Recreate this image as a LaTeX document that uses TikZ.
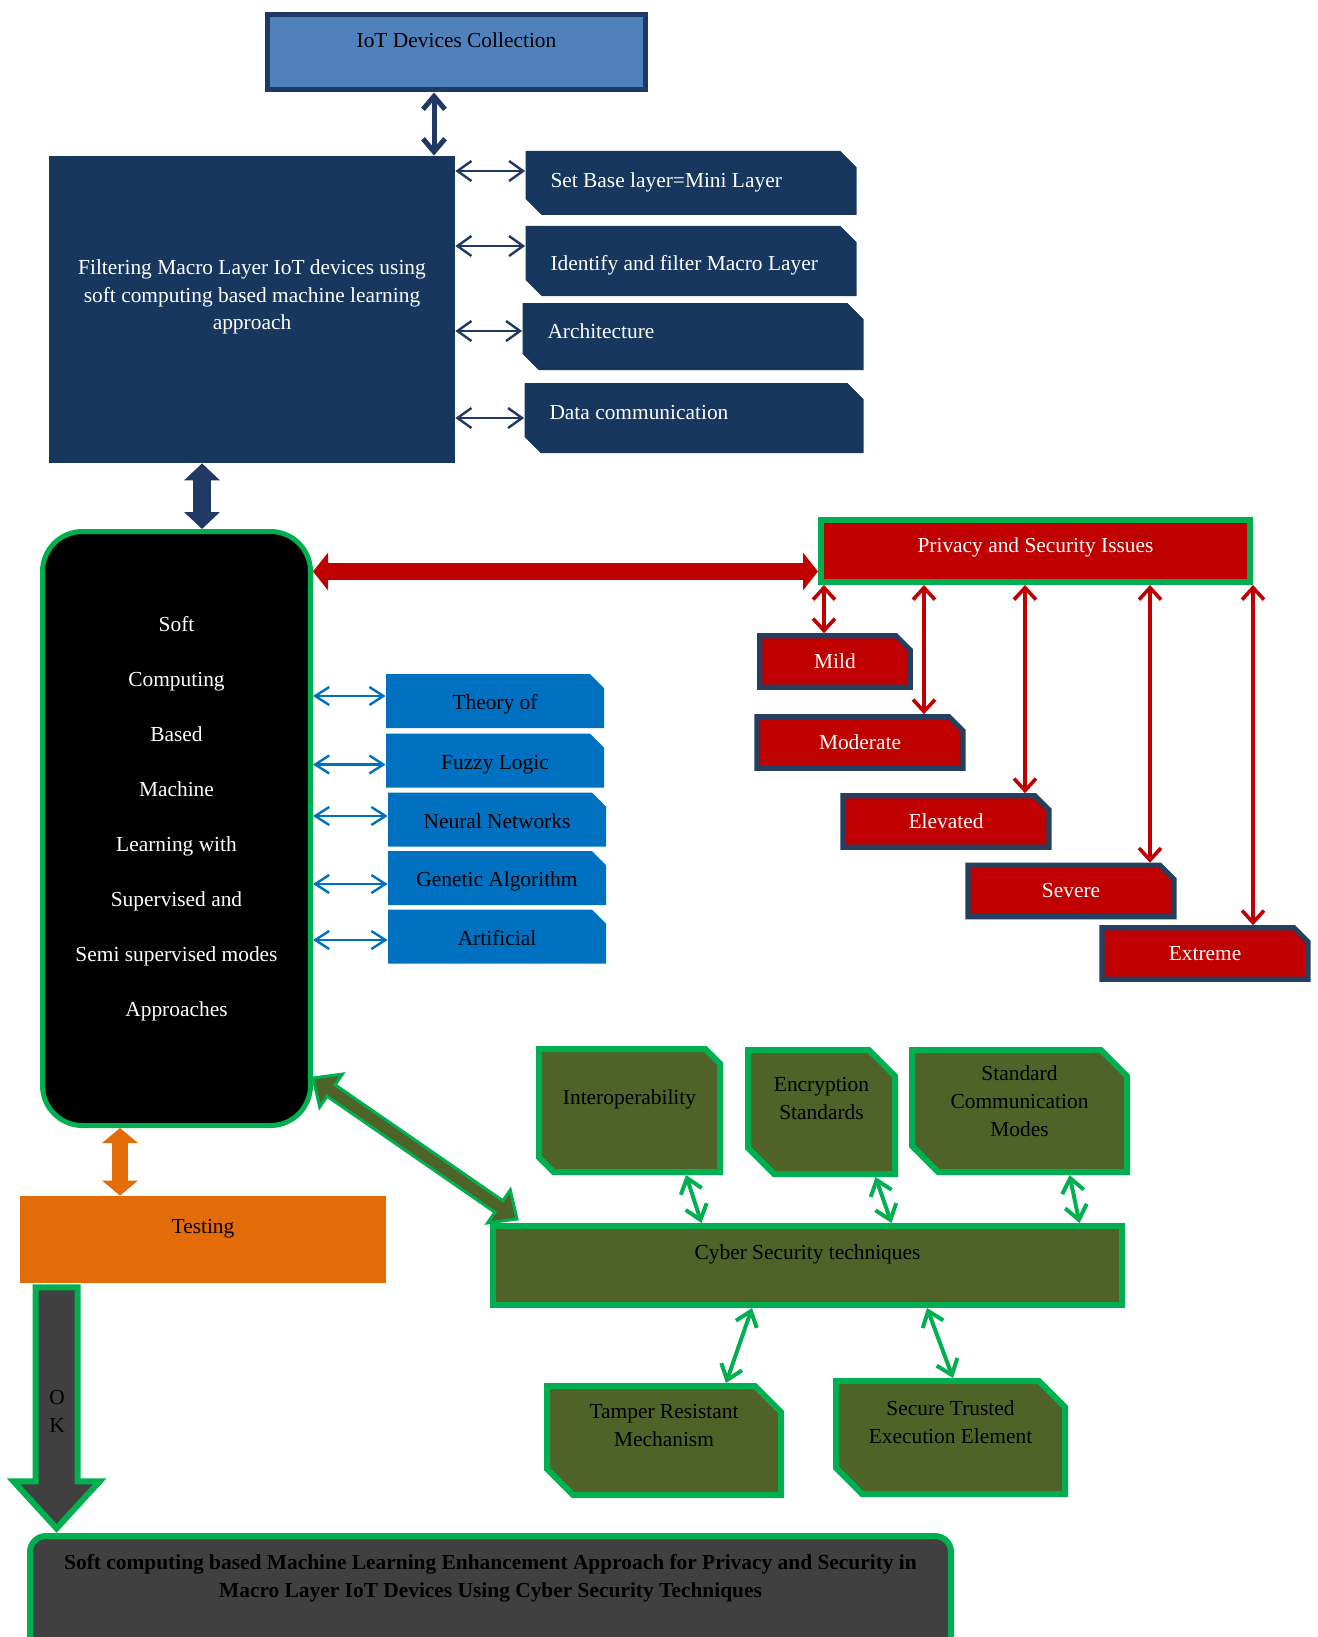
\documentclass[tikz,border=0pt]{standalone}
\usepackage{fontspec}
\setmainfont{Liberation Serif}
\usetikzlibrary{positioning, shapes.misc, arrows.meta, calc}

\definecolor{navy}{HTML}{17375E}
\definecolor{navyline}{HTML}{1F3864}
\definecolor{steel}{HTML}{4F81BD}
\definecolor{alarm}{HTML}{C00000}
\definecolor{slate}{HTML}{243F60}
\definecolor{leaf}{HTML}{00B050}
\definecolor{ocean}{HTML}{0070C0}
\definecolor{pumpkin}{HTML}{E36C09}
\definecolor{moss}{HTML}{4F6228}
\definecolor{charcoal}{HTML}{404040}

\begin{document}
\begin{tikzpicture}[x=0.5pt, y=-0.5pt,
        every node/.style={font=\fontsize{10.7}{14}\selectfont, align=center},
        iotbox/.style={rectangle, draw=navyline, line width=2.5pt, fill=steel, minimum width=189pt, minimum height=37.5pt, text height=7.5pt},
        filterbox/.style={rectangle, fill=navy, text=white, minimum width=203pt, minimum height=153.5pt, text width=190pt, align=flush center, text height=7.5pt},
        sidebox/.style={chamfered rectangle, chamfered rectangle corners={north east, south west}, chamfered rectangle xsep=5pt, fill=navy, text=white, align=flush left, text height=7.5pt},
        softbox/.style={rectangle, rounded corners=20pt, draw=leaf, line width=2.5pt, fill=black, text=white, minimum width=134pt, minimum height=297pt, text width=120pt, align=flush center, text height=7.5pt, font=\fontsize{10.7}{27.5}\selectfont},
        issuebox/.style={rectangle, draw=leaf, line width=2.8pt, fill=alarm, text=white, minimum width=214.7pt, minimum height=31.2pt, text height=7.5pt},
        riskbox/.style={chamfered rectangle, chamfered rectangle corners=north east, chamfered rectangle xsep=4pt, draw=slate, line width=2.6pt, fill=alarm, text=white, minimum width=103pt, minimum height=25.7pt},
        methodbox/.style={chamfered rectangle, chamfered rectangle corners=north east, chamfered rectangle xsep=4pt, fill=ocean, minimum width=109pt, minimum height=27pt, text height=9pt, text depth=0.5pt},
        testbox/.style={rectangle, fill=pumpkin, minimum width=183pt, minimum height=43.5pt, text height=7.5pt},
        cyberbox/.style={rectangle, draw=leaf, line width=3pt, fill=moss, minimum width=314.5pt, minimum height=39.5pt, text height=7.5pt},
        techbox/.style={chamfered rectangle, chamfered rectangle corners={north east, south west}, chamfered rectangle xsep=10pt, draw=leaf, line width=3pt, fill=moss, inner sep=1pt, align=flush center, text height=0pt},
        resultbox/.style={rectangle, rounded corners=8pt, draw=leaf, line width=3pt, fill=charcoal, minimum width=460.5pt, minimum height=58pt, text width=445pt, align=flush center, text height=7.5pt, font=\bfseries\fontsize{10.7}{14}\selectfont},
        iotlink/.style={<->, >={Straight Barb[length=6.5pt,width=11pt]}, line width=2.5pt, draw=navyline},
        navylink/.style={<->, >={Straight Barb[length=7pt,width=10pt]}, line width=1.2pt, draw=navyline},
        navyblock/.style={<->, >={Triangle[length=8.5pt,width=17.5pt]}, line width=9pt, draw=navyline},
        redblock/.style={<->, >={Triangle[length=7.5pt,width=18.5pt]}, line width=8.5pt, draw=alarm},
        redlink/.style={<->, >={Straight Barb[length=6pt,width=11pt]}, line width=1.8pt, draw=alarm},
        bluelink/.style={<->, >={Straight Barb[length=7pt,width=9pt]}, line width=1.2pt, draw=ocean},
        orangeblock/.style={<->, >={Triangle[length=7.5pt,width=17.5pt]}, line width=8pt, draw=pumpkin},
        greenlink/.style={<->, >={Straight Barb[length=7pt,width=11pt]}, line width=2pt, draw=leaf},
        okarrow/.style={draw=leaf, line width=3pt, fill=charcoal},
        mossblock/.style={draw=leaf, line width=1.5pt, fill=moss}
    ]
    \useasboundingbox (0,0) rectangle (1317,1637);

    % top part
    \node[iotbox, text depth=12.5pt] (iot) at (456.5,52.5) {IoT Devices Collection};
    \node[filterbox, text depth=43pt] (filter) at (252,309.5) {Filtering Macro Layer IoT devices using\\soft computing based machine learning\\approach};
    \node[sidebox, minimum width=165.5pt, minimum height=32pt, text width=140.5pt, text depth=2.5pt] (base) at (691,183) {Set Base layer=Mini Layer};
    \node[sidebox, minimum width=165.5pt, minimum height=35pt, text width=140.5pt, text height=9.7pt, text depth=0.5pt] (macro) at (691,261) {Identify and filter Macro Layer};
    \node[sidebox, minimum width=170.5pt, minimum height=33.5pt, text width=145.5pt, text depth=5.7pt] (arch) at (693,336.5) {Architecture};
    \node[sidebox, minimum width=169.5pt, minimum height=35pt, text width=144.5pt, text depth=5.7pt] (datacom) at (694,418) {Data communication};

    % soft computing block
    \node[softbox, text depth=204.5pt] (soft) at (176.5,828.5) {Soft\\Computing\\Based\\Machine\\Learning with\\Supervised and\\Semi supervised modes\\Approaches};
    \node[methodbox] (theory) at (495,701) {Theory of};
    \node[methodbox] (fuzzy) at (495,760.5) {Fuzzy Logic};
    \node[methodbox] (neural) at (497,819.5) {Neural Networks};
    \node[methodbox] (genetic) at (497,878) {Genetic Algorithm};
    \node[methodbox] (artificial) at (497,936.5) {Artificial};

    % issues
    \node[issuebox, text depth=5.7pt] (privacy) at (1035.5,551) {Privacy and Security Issues};
    \node[riskbox, minimum width=75.2pt] (mild) at (835,661.5) {Mild};
    \node[riskbox] (moderate) at (860,742.5) {Moderate};
    \node[riskbox] (elevated) at (946,821.5) {Elevated};
    \node[riskbox] (severe) at (1071,891) {Severe};
    \node[riskbox] (extreme) at (1205,953.5) {Extreme};

    % testing and result
    \node[testbox, text depth=13.1pt] (testing) at (203,1239.5) {Testing};
    \node[resultbox, text depth=32pt] (result) at (490.5,1594) {Soft computing based Machine Learning Enhancement Approach for Privacy and Security in\\Macro Layer IoT Devices Using Cyber Security Techniques};

    % cyber security techniques
    \node[cyberbox, text depth=13.1pt] (cyber) at (807.5,1265.5) {Cyber Security techniques};
    \node[techbox, minimum width=90.5pt, minimum height=61.5pt, text depth=6.4pt] (interop) at (629.5,1110.5) {Interoperability};
    \node[techbox, minimum width=73.5pt, minimum height=62pt, text width=50pt, text depth=20.6pt] (encrypt) at (821.5,1112) {Encryption\\Standards};
    \node[techbox, minimum width=107.5pt, minimum height=61pt, text width=72pt, text depth=30.4pt] (standard) at (1019.5,1111) {Standard\\Communication\\Modes};
    \node[techbox, minimum width=117pt, minimum height=54.5pt, text width=85pt, text depth=21.6pt] (tamper) at (664,1440.5) {Tamper Resistant\\Mechanism};
    \node[techbox, minimum width=114.5pt, minimum height=56.5pt, text width=90pt, text depth=21.6pt] (secure) at (950.5,1437.5) {Secure Trusted\\Execution Element};

    % connectors
    \draw[iotlink] ([xshift=-11.25pt]iot.south) -- ([xshift=-11.25pt]iot.south |- filter.north);
    \draw[navylink] ([yshift=6pt]base.west -| filter.east) -- ([yshift=6pt]base.west);
    \draw[navylink] ([yshift=7.5pt]macro.west -| filter.east) -- ([yshift=7.5pt]macro.west);
    \draw[navylink] ([yshift=2.75pt]arch.west -| filter.east) -- ([yshift=2.75pt]arch.west);
    \draw[navylink] (datacom.west -| filter.east) -- (datacom.west);
    \draw[navyblock] ([xshift=-25pt]filter.south) -- ([xshift=-25pt]filter.south |- soft.north);

    \draw[redblock] ([yshift=-10.25pt]privacy.west -| soft.east) -- ([yshift=-10.25pt]privacy.west);
    \draw[redlink] ([xshift=-5.5pt]mild.north |- privacy.south) -- ([xshift=-5.5pt]mild.north);
    \draw[redlink] ([xshift=32pt]moderate.north |- privacy.south) -- ([xshift=32pt]moderate.north);
    \draw[redlink] ([xshift=39.5pt]elevated.north |- privacy.south) -- ([xshift=39.5pt]elevated.north);
    \draw[redlink] ([xshift=39.5pt]severe.north |- privacy.south) -- ([xshift=39.5pt]severe.north);
    \draw[redlink] ([xshift=24pt]extreme.north |- privacy.south) -- ([xshift=24pt]extreme.north);

    \draw[bluelink] ([yshift=2.5pt]theory.west -| soft.east) -- ([yshift=2.5pt]theory.west);
    \draw[bluelink] ([yshift=-2pt]fuzzy.west -| soft.east) -- ([yshift=-2pt]fuzzy.west);
    \draw[bluelink] ([yshift=1.75pt]neural.west -| soft.east) -- ([yshift=1.75pt]neural.west);
    \draw[bluelink] ([yshift=-3pt]genetic.west -| soft.east) -- ([yshift=-3pt]genetic.west);
    \draw[bluelink] ([yshift=-1.75pt]artificial.west -| soft.east) -- ([yshift=-1.75pt]artificial.west);

    \draw[orangeblock] ([xshift=-41.5pt]testing.north |- soft.south) -- ([xshift=-41.5pt]testing.north);
    \draw[okarrow] ([xshift=8pt,yshift=-2pt]testing.south west) -- ++(0,194) -- ++(-22,0) -- ++(43,47) -- ++(43,-47) -- ++(-22,0) -- ++(0,-194) -- cycle;
    \node (ok) at (57,1411) {O\\K};

    \coordinate (mossA) at ([yshift=-124.75pt]soft.east);
    \coordinate (mossB) at ([xshift=13.5pt,yshift=2pt]cyber.north west);
    \draw[mossblock] (mossA) -- ($(mossA)!11pt!(mossB)!10pt!90:(mossB)$) -- ($(mossA)!11pt!(mossB)!3.5pt!90:(mossB)$)
        -- ($(mossB)!11pt!(mossA)!3.5pt!-90:(mossA)$) -- ($(mossB)!11pt!(mossA)!10pt!-90:(mossA)$) -- (mossB)
        -- ($(mossB)!11pt!(mossA)!10pt!90:(mossA)$) -- ($(mossB)!11pt!(mossA)!3.5pt!90:(mossA)$)
        -- ($(mossA)!11pt!(mossB)!3.5pt!-90:(mossB)$) -- ($(mossA)!11pt!(mossB)!10pt!-90:(mossB)$) -- cycle;

    \draw[greenlink] ([xshift=28.25pt]interop.south) -- ([xshift=-53pt]cyber.north);
    \draw[greenlink] ([xshift=27pt]encrypt.south) -- ([xshift=42pt]cyber.north);
    \draw[greenlink] ([xshift=25pt]standard.south) -- ([xshift=136pt]cyber.north);
    \draw[greenlink] ([xshift=-27.75pt]cyber.south) -- ([xshift=31pt]tamper.north);
    \draw[greenlink] ([xshift=59.75pt]cyber.south) -- ([xshift=1.25pt]secure.north);
\end{tikzpicture}
\end{document}
